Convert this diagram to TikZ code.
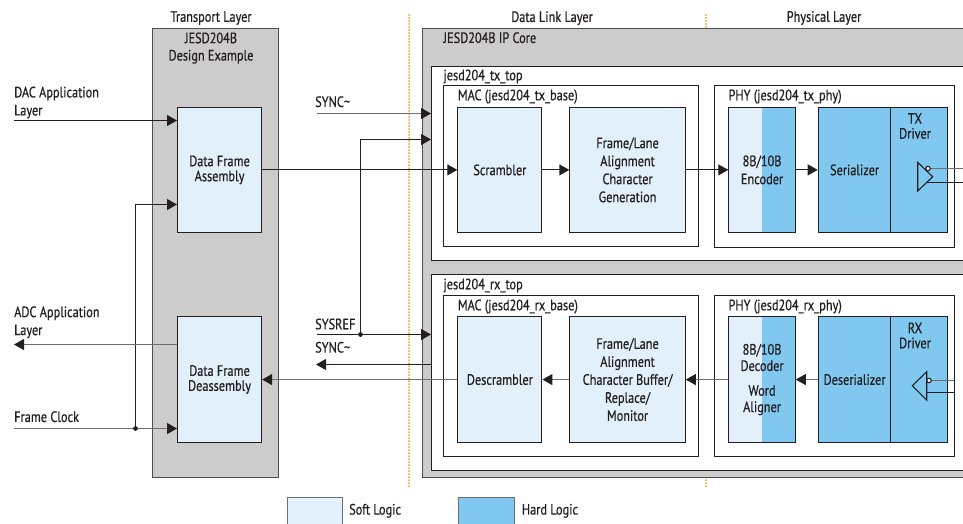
\documentclass[tikz,border=0pt]{standalone}
\usepackage{fontspec}
\setmainfont{PT Sans}[FakeStretch=0.82,FakeBold=0.5]
\usetikzlibrary{arrows.meta}
\definecolor{ink}{HTML}{231F20}
\definecolor{wire}{HTML}{6D6E71}
\definecolor{softc}{HTML}{E1F0FA}
\definecolor{hardc}{HTML}{80C8EF}
\definecolor{grayc}{HTML}{CCCCCC}
\definecolor{edgec}{HTML}{4D4D4F}
\definecolor{orangec}{HTML}{F39A2C}
\newcommand\fs{\fontsize{15}{18}\selectfont}
\newcommand\fst{\fontsize{15}{15}\selectfont}
\newcommand\fsd{\fontsize{15}{16.3}\selectfont}
\begin{document}
\begin{tikzpicture}[x=1pt,y=-1pt,
  blk/.style={draw=ink, line width=1.1pt, inner sep=0pt, anchor=north west, align=center, font=\fs, text=ink},
  soft/.style={blk, fill=softc},
  hard/.style={blk, fill=hardc},
  split/.style={blk, fill=softc, path picture={\fill[hardc] (path picture bounding box.north) rectangle (path picture bounding box.south east);}},
  frame/.style={draw=ink, line width=1.1pt, fill=white, anchor=north west, inner sep=0pt},
  grayblk/.style={draw=edgec, line width=1.1pt, fill=grayc, anchor=north west, inner sep=0pt},
  lbl/.style={inner sep=0pt, text height=10.5pt, text depth=0pt, font=\fs, text=ink},
  mlbl/.style={inner sep=0pt, font=\fs, text=ink},
  arr/.style={draw=ink, line width=1pt, -{Triangle[length=10pt,width=11pt,color=ink]}},
  warr/.style={draw=wire, line width=1pt, -{Triangle[length=10pt,width=11pt,color=ink]}},
  wln/.style={draw=ink, line width=1.1pt},
  orangedot/.style={draw=orangec, line width=2pt, line cap=round, dash pattern=on 0pt off 3pt},
  jdot/.style={fill=ink}
]
\clip (0,0) rectangle (963,523);
\fill[white] (0,0) rectangle (963,523);

% layer dividers
\draw[orangedot] (409,15) -- (409,487);
\draw[orangedot] (706,15) -- (706,487);

% layer titles
\node[lbl] (tTL) at (211,16.5) {Transport Layer};
\node[lbl] (tDL) at (552,16.7) {Data Link Layer};
\node[lbl] (tPL) at (824,16.5) {Physical Layer};

% transport layer block
\node[grayblk, minimum width=126.6pt, minimum height=449.3pt] (tl) at (151.7,27.7) {};
\node[mlbl, anchor=north, align=center, font=\fontsize{15}{17.3}\selectfont] (tlname) at (211,32.3) {JESD204B\\Design Example};
\node[soft, minimum width=84pt, minimum height=125.3pt, font=\fst] (dfa) at (177,106.7) {Data Frame\\Assembly};
\node[soft, minimum width=84pt, minimum height=126pt, font=\fst] (dfd) at (177,316) {Data Frame\\Deassembly};

% IP core
\node[grayblk, minimum width=560pt, minimum height=449.5pt] (ipc) at (421.7,27.5) {};
\node[lbl, anchor=west] (ipcname) at (443.3,37.7) {JESD204B IP Core};
\node[frame, minimum width=550pt, minimum height=194.3pt] (txtop) at (431,65.7) {};
\node[frame, minimum width=550pt, minimum height=195.7pt] (rxtop) at (431,274.3) {};
\node[lbl, anchor=west] (txtopname) at (443.3,75) {jesd204\_tx\_top};
\node[lbl, anchor=west] (rxtopname) at (443.3,284) {jesd204\_rx\_top};

\node[frame, minimum width=255pt, minimum height=160.7pt] (txmac) at (443.3,85.3) {};
\node[frame, minimum width=240.3pt, minimum height=161.4pt] (txphy) at (714,85.3) {};
\node[frame, minimum width=255pt, minimum height=160.7pt] (rxmac) at (443.3,295) {};
\node[frame, minimum width=240.3pt, minimum height=160.7pt] (rxphy) at (714,295) {};
\node[lbl, anchor=west] (txmacname) at (457.7,95) {MAC (jesd204\_tx\_base)};
\node[lbl, anchor=west] (txphyname) at (728.3,95) {PHY (jesd204\_tx\_phy)};
\node[lbl, anchor=west] (rxmacname) at (457.7,305) {MAC (jesd204\_rx\_base)};
\node[lbl, anchor=west] (rxphyname) at (728.3,305) {PHY (jesd204\_rx\_phy)};

% TX blocks
\node[soft, minimum width=84pt, minimum height=125.3pt] (scr) at (457.3,106.7) {Scrambler};
\node[soft, minimum width=115.4pt, minimum height=125.3pt] (txfl) at (569.3,106.7) {Frame/Lane\\Alignment\\Character\\Generation};
\node[split, minimum width=66.4pt, minimum height=125.3pt] (enc) at (728.3,106.7) {8B/10B\\Encoder};
\node[hard, minimum width=72.6pt, minimum height=125.3pt] (ser) at (817.7,106.7) {Serializer};
\node[hard, minimum width=57pt, minimum height=125.3pt] (txd) at (890.3,106.7) {};
\node[mlbl, align=center, font=\fst] (txdname) at (915,126) {TX\\Driver};

% RX blocks
\node[soft, minimum width=84pt, minimum height=126pt] (dscr) at (457.3,316) {Descrambler};
\node[soft, minimum width=115.4pt, minimum height=126pt] (rxfl) at (569.3,316) {Frame/Lane\\Alignment\\Character Buffer/\\Replace/\\Monitor};
\node[split, minimum width=66.4pt, minimum height=126pt, font=\fsd] (dec) at (728.3,316) {8B/10B\\Decoder\\[8.5pt]Word\\Aligner};
\node[hard, minimum width=72.6pt, minimum height=126pt] (des) at (817.7,316) {Deserializer};
\node[hard, minimum width=57pt, minimum height=126pt] (rxd) at (890.3,316) {};
\node[mlbl, align=center, font=\fst] (rxdname) at (915,335.5) {RX\\Driver};

% driver symbols
\draw[wln, fill=hardc] (917.7,162.3) -- (932.7,176.7) -- (917.7,191) -- cycle;
\draw[draw=wire, line width=1pt] (930.2,168.5) -- (963,168.5);
\draw[draw=ink, line width=1pt] (926.8,182.5) -- (963,182.5);
\draw[wln, fill=white] (928,168.5) circle (2.2);
\draw[wln, fill=hardc] (926.7,371.7) -- (912.3,385.7) -- (926.7,400) -- cycle;
\draw[draw=wire, line width=1pt] (931.2,380.5) -- (954.3,380.5);
\draw[draw=ink, line width=1pt] (926.7,392.5) -- (954.3,392.5);
\draw[wln, fill=white] (929,380.5) circle (2.2);

% left labels
\node[mlbl, anchor=north west, align=left] (dacname) at (14,86.5) {DAC Application\\Layer};
\node[mlbl, anchor=north west, align=left] (adcname) at (14,306.2) {ADC Application\\Layer};
\node[lbl, anchor=west] (fcname) at (14,416.7) {Frame Clock};
\node[lbl, anchor=west] (syncaname) at (315,101.7) {SYNC\textasciitilde};
\node[lbl, anchor=west] (sysrefname) at (315,324) {SYSREF};
\node[lbl, anchor=west] (syncbname) at (315,347.3) {SYNC\textasciitilde};

% connectors
\coordinate (dacin) at (14,120.5);
\draw[arr] (dacin) -- (dacin -| dfa.west);
\coordinate (fcin) at (14,428.5);
\draw[warr] (fcin) -- (fcin -| dfd.west);
\coordinate (fcdot) at (135.5,428.5);
\coordinate (clkv) at (135.5,204.5);
\draw[arr] (fcdot) -- (clkv) -- (clkv -| dfa.west);
\fill[jdot] (fcdot) circle (2.4);
\coordinate (adcout) at (14,344.5);
\draw[warr] (adcout -| dfd.west) -- (adcout);

\draw[arr] (dfa.east) -- (scr.west);
\draw[warr] (dscr.west) -- (dfd.east);

\coordinate (synca) at (316.7,113.5);
\draw[warr] (synca) -- (synca -| txtop.west);
\coordinate (sysa) at (316.7,334.5);
\draw[arr] (sysa) -- (sysa -| rxtop.west);
\coordinate (sysdot) at (360.5,334.5);
\coordinate (sysv) at (360.5,139.5);
\draw[arr] (sysdot) -- (sysv) -- (sysv -| txtop.west);
\fill[jdot] (sysdot) circle (2.4);
\coordinate (syncb) at (316,364.5);
\draw[arr] (syncb -| rxtop.west) -- (syncb);

\draw[arr] (scr.east) -- (txfl.west);
\draw[arr] (txfl.east) -- (enc.west);
\draw[arr] (enc.east) -- (ser.west);
\draw[warr] (rxfl.west) -- (dscr.east);
\draw[warr] (dec.west) -- (rxfl.east);
\draw[warr] (des.west) -- (dec.east);

% legend
\node[soft, draw=wire, minimum width=55.6pt, minimum height=40pt] (lgsoft) at (286.7,496.7) {};
\node[lbl, anchor=west] (lgsoftname) at (349,509.3) {Soft Logic};
\node[hard, draw=wire, minimum width=56.6pt, minimum height=40pt] (lghard) at (457.7,496.7) {};
\node[lbl, anchor=west] (lghardname) at (521.7,509.3) {Hard Logic};
\end{tikzpicture}
\end{document}
